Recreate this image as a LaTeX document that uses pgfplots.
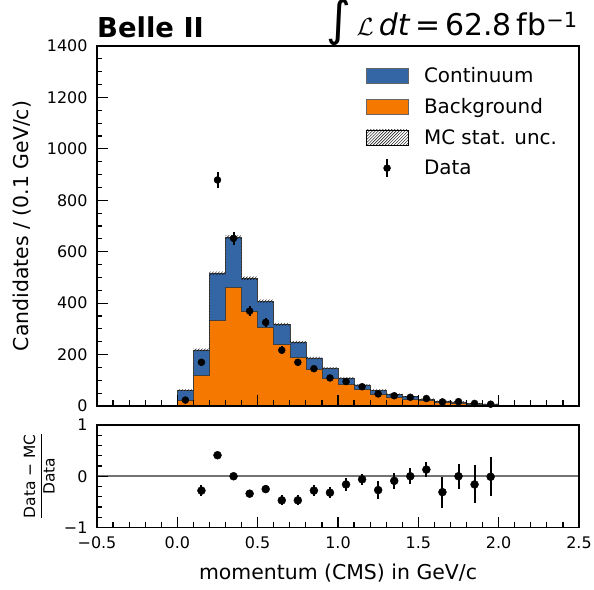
\documentclass[border=0pt]{standalone}
\usepackage{pgfplots}
\pgfplotsset{compat=1.18}
\usepackage{pgfplotstable}
\usetikzlibrary{patterns}
\usepackage{fontspec}
\setmainfont{DejaVu Sans}
\definecolor{cblue}{RGB}{52,101,164}
\definecolor{corange}{RGB}{245,121,0}

% bin left edge, background, total MC
\pgfplotstableread{
x bkg tot
0.0 23 62
0.1 120 218
0.2 332 516
0.3 462 656
0.4 367 497
0.5 305 408
0.6 240 318
0.7 188 248
0.8 143 187
0.9 108 147
1.0 84 108
1.1 65 82
1.2 47 62
1.3 34 45
1.4 26 36
1.5 21 26
1.6 15 19
1.7 12 16
1.8 8 10
1.9 6 8
2.0 6 8
}\hist

% MC stat. unc. band outline (upper edge forward, lower edge backward)
\pgfplotstableread{
x y
0.0 65.0
0.1 222.7
0.2 522.7
0.3 663.4
0.4 503.6
0.5 414.0
0.6 323.5
0.7 252.9
0.8 191.4
0.9 151.0
1.0 111.6
1.1 85.3
1.2 65.0
1.3 47.7
1.4 38.5
1.5 28.3
1.6 21.1
1.7 18.0
1.8 11.8
1.9 9.7
2.0 9.7
2.0 6.3
1.9 8.2
1.8 14.0
1.7 16.9
1.6 23.7
1.5 33.5
1.4 42.3
1.3 59.0
1.2 78.7
1.1 104.4
1.0 143.0
0.9 182.6
0.8 243.1
0.7 312.5
0.6 402.0
0.5 490.4
0.4 648.6
0.3 509.3
0.2 213.3
0.1 59.0
0.0 59.0
}\band

\pgfplotstableread{
x data derr
0.05 23 4.8
0.15 170 13.0
0.25 879 29.6
0.35 652 25.5
0.45 369 19.2
0.55 325 18.0
0.65 217 14.7
0.75 170 13.0
0.85 145 12.0
0.95 109 10.4
1.05 95 9.7
1.15 75 8.7
1.25 47 6.9
1.35 40 6.3
1.45 34 5.8
1.55 29 5.4
1.65 16 4.0
1.75 17 4.1
1.85 10 3.2
1.95 7 2.6
}\data

\pgfplotstableread{
x r rerr
0.15 -0.28 0.10
0.25 0.41 0.03
0.35 0.00 0.04
0.45 -0.34 0.07
0.55 -0.25 0.07
0.65 -0.47 0.10
0.75 -0.47 0.10
0.85 -0.28 0.11
0.95 -0.32 0.11
1.05 -0.16 0.12
1.15 -0.06 0.11
1.25 -0.27 0.17
1.35 -0.09 0.16
1.45 0.00 0.16
1.55 0.13 0.15
1.65 -0.31 0.30
1.75 0.00 0.24
1.85 -0.16 0.37
1.95 -0.01 0.38
}\ratio

\pgfplotsset{
  belle/.style={
    scale only axis,
    width=482bp,
    xmin=-0.5, xmax=2.5,
    axis on top,
    axis line style={line width=1.6bp, black},
    tick style={line width=1.2bp, black},
    major tick length=11bp,
    minor tick length=5.5bp,
    tick align=inside,
    xtick pos=lower, ytick pos=left,
    xtick={-0.5,0,0.5,1,1.5,2,2.5},
    minor x tick num=4,
    tick label style={font=\fontsize{16}{19}\selectfont},
    xticklabel style={yshift=-6bp},
    yticklabel style={xshift=-6bp},
  },
}

\begin{document}
\begin{tikzpicture}
\path[use as bounding box] (-97bp,-184bp) rectangle (497bp,406bp);
\begin{axis}[belle,
  name=main,
  at={(0,0)}, anchor=south west,
  height=360bp,
  ymin=0, ymax=1400,
  ytick={0,200,400,600,800,1000,1200,1400},
  yticklabels={0,200,400,600,800,1000,1200,1400},
  minor y tick num=3,
  xticklabels={},
  ylabel={Candidates / (0.1 GeV/c)},
  every axis y label/.style={at={(axis description cs:-0.156,0.5)},rotate=90,anchor=center,font=\fontsize{20.5}{24}\selectfont},
  legend style={draw=none, fill=none, at={(rel axis cs:0.551,0.953)}, anchor=north west,
    font=\fontsize{20}{24}\selectfont, row sep=10.5bp},
  legend cell align=left,
]
\addlegendimage{legend image code/.code={\path[draw=none,fill=none] (0bp,0bp) (56bp,0bp); \draw[fill=cblue, draw=black!60, line width=0.6bp] (0bp,-7.5bp) rectangle (42bp,7.5bp);}}
\addlegendentry{Continuum}
\addlegendimage{legend image code/.code={\path[draw=none,fill=none] (0bp,0bp) (56bp,0bp); \draw[fill=corange, draw=black!60, line width=0.6bp] (0bp,-7.5bp) rectangle (42bp,7.5bp);}}
\addlegendentry{Background}
\addlegendimage{legend image code/.code={\path[draw=none,fill=none] (0bp,0bp) (56bp,0bp); \fill[pattern=north east lines] (0bp,-7.5bp) rectangle (42bp,7.5bp);}}
\addlegendentry{MC stat. unc.}
\addlegendimage{legend image code/.code={\path[draw=none,fill=none] (0bp,0bp) (56bp,0bp); \draw[line width=2bp] (21bp,-9bp) -- (21bp,9bp); \fill (21bp,0bp) circle (3.5bp);}}
\addlegendentry{Data}

\addplot[const plot, fill=cblue, draw=black!75, line width=0.6bp, forget plot] table[x=x, y=tot] {\hist} \closedcycle;
\addplot[const plot, fill=corange, draw=black!75, line width=0.6bp, forget plot] table[x=x, y=bkg] {\hist} \closedcycle;
\addplot[const plot, pattern=north east lines, draw=none, forget plot] table[x=x, y=y] {\band};
\addplot[only marks, mark=*, mark size=3.5bp, black, forget plot,
  error bars/.cd, y dir=both, y explicit, error mark=none,
  error bar style={line width=2bp}] table[x=x, y=data, y error=derr] {\data};
\end{axis}

\begin{axis}[belle,
  name=ratio,
  at={(0,-19bp)}, anchor=north west,
  height=102.5bp,
  ymin=-1, ymax=1,
  ytick={-1,0,1},
  yticklabels={−1,0,1},
  minor y tick num=4,
  xticklabels={−0.5,0.0,0.5,1.0,1.5,2.0,2.5},
  xlabel={momentum (CMS) in GeV/c},
  every axis x label/.style={at={(axis description cs:0.5,-0.44)},anchor=center,font=\fontsize{20.5}{24}\selectfont},
  ylabel={$\displaystyle\frac{\mbox{Data − MC}}{\mbox{Data}}$},
  every axis y label/.style={at={(axis description cs:-0.12,0.5)},rotate=90,anchor=center,font=\fontsize{15.5}{18}\selectfont},
]
\addplot[black!55, line width=2bp] coordinates {(-0.5,0) (2.5,0)};
\addplot[only marks, mark=*, mark size=4bp, black,
  error bars/.cd, y dir=both, y explicit, error mark=none,
  error bar style={line width=2bp}] table[x=x, y=r, y error=rerr] {\ratio};
\end{axis}

\node[anchor=base west, inner sep=0pt, font=\fontsize{27.5}{32}\selectfont\bfseries] at (0bp,368bp) {Belle II};
\node[anchor=base east, inner sep=0pt, font=\fontsize{30}{34}\selectfont] at (481bp,370bp) {\raisebox{0.02em}{\fontsize{48}{52}\selectfont ∫}\,$\mathcal{L}$\,\textit{dt}\,=\,62.8\,fb\textsuperscript{−1}};
\end{tikzpicture}
\end{document}
